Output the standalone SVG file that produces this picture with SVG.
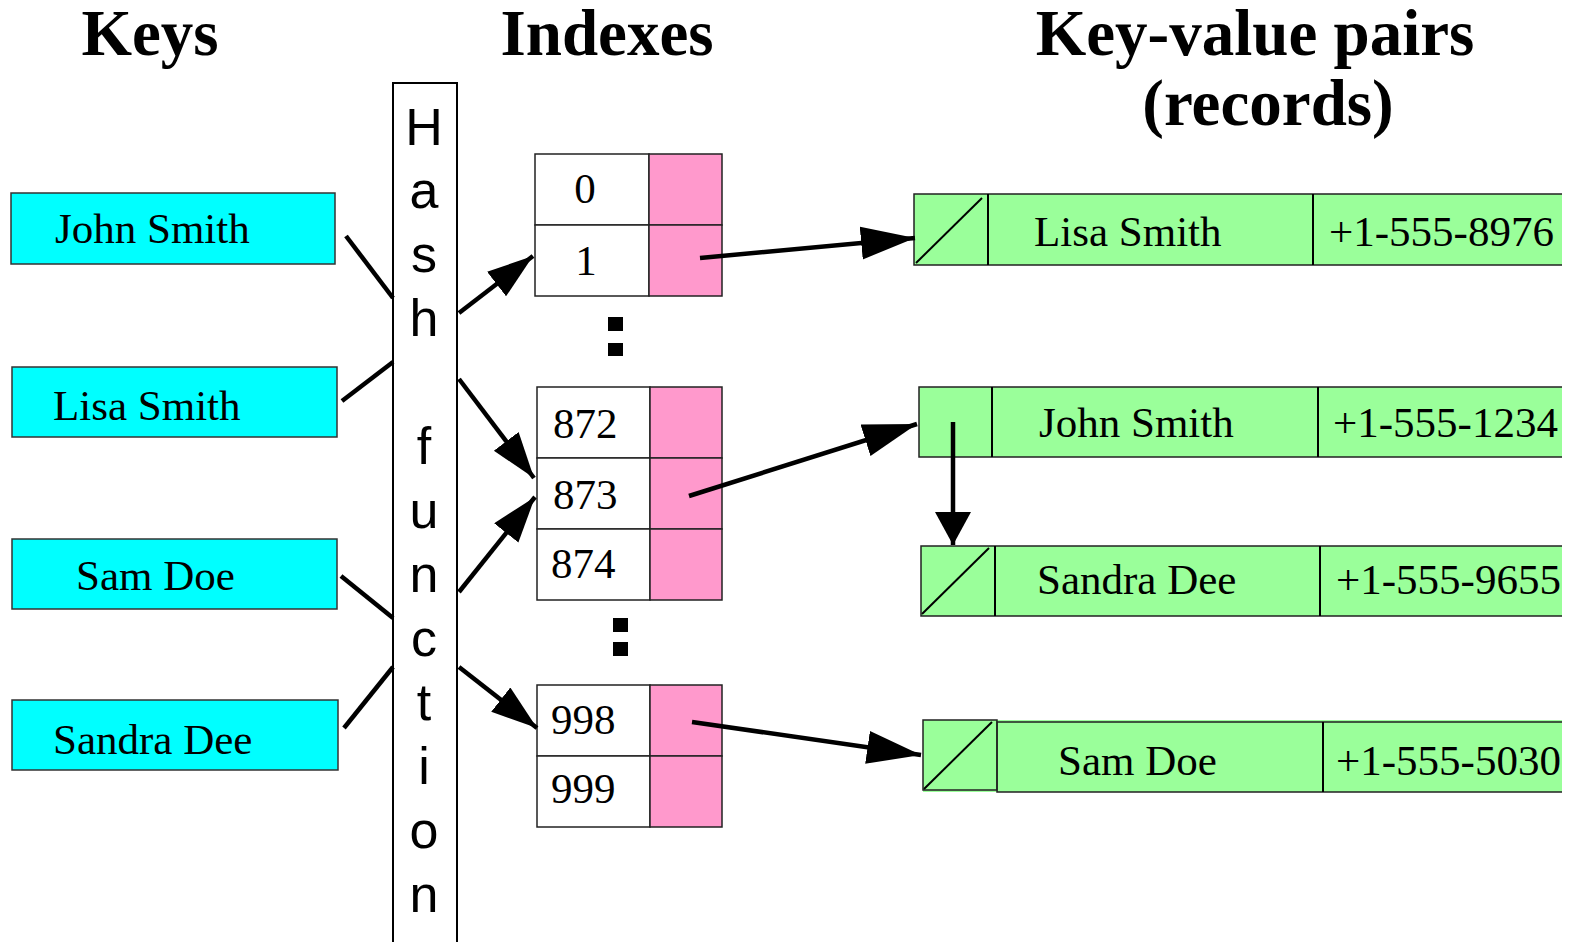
<svg xmlns="http://www.w3.org/2000/svg" width="1570" height="942" viewBox="0 0 1570 942">
<style>
.title{font-family:"Liberation Serif","Times New Roman",serif;font-weight:bold;font-size:65px;fill:#000}
.t{font-family:"Liberation Serif","Times New Roman",serif;font-size:43px;fill:#000}
.h{font-family:"Liberation Sans",Arial,sans-serif;font-size:52px;fill:#000}
.key{fill:#00FFFF;stroke:#333;stroke-width:1.5}
.idx{fill:#fff;stroke:#222;stroke-width:1.5}
.ptr{fill:#FF99CC;stroke:#222;stroke-width:1.5}
.rec{fill:#9AFF9A;stroke:none}
.edge{stroke:#222;stroke-width:1.5;fill:none}
.div{stroke:#000;stroke-width:2;fill:none}
.conn{stroke:#000;stroke-width:4.5;fill:none}
</style>
<defs>
<marker id="aL" markerUnits="userSpaceOnUse" markerWidth="56" markerHeight="34" refX="54" refY="16.5" orient="auto"><path d="M0,0 L54,16.5 L0,33 z" fill="#000"/></marker>
<marker id="aM" markerUnits="userSpaceOnUse" markerWidth="48" markerHeight="32" refX="46" refY="15.5" orient="auto"><path d="M0,0 L46,15.5 L0,31 z" fill="#000"/></marker>
<marker id="aV" markerUnits="userSpaceOnUse" markerWidth="36" markerHeight="38" refX="33" refY="18" orient="auto"><path d="M0,0 L33,18 L0,36 z" fill="#000"/></marker>
</defs>
<rect width="1570" height="942" fill="#fff"/>

<g id="titles">
<text class="title" x="150" y="55" text-anchor="middle">Keys</text>
<text class="title" x="607" y="55" text-anchor="middle">Indexes</text>
<text class="title" x="1255" y="55" text-anchor="middle">Key-value pairs</text>
<text class="title" x="1268" y="125" text-anchor="middle">(records)</text>
</g>

<g id="key-john">
<rect class="key" x="11" y="193" width="324" height="71"/>
<text class="t" x="55" y="243">John Smith</text>
</g>
<g id="key-lisa">
<rect class="key" x="12" y="367" width="325" height="70"/>
<text class="t" x="53" y="420">Lisa Smith</text>
</g>
<g id="key-sam">
<rect class="key" x="12" y="539" width="325" height="70"/>
<text class="t" x="76" y="590">Sam Doe</text>
</g>
<g id="key-sandra">
<rect class="key" x="12" y="700" width="326" height="70"/>
<text class="t" x="53" y="754">Sandra Dee</text>
</g>

<g id="hash-function">
<rect x="393" y="83" width="64" height="870" fill="#fff" stroke="#000" stroke-width="2"/>
<text class="h" text-anchor="middle" x="424" y="145">H</text>
<text class="h" text-anchor="middle" x="424" y="208">a</text>
<text class="h" text-anchor="middle" x="424" y="272">s</text>
<text class="h" text-anchor="middle" x="424" y="336">h</text>
<text class="h" text-anchor="middle" x="424" y="464">f</text>
<text class="h" text-anchor="middle" x="424" y="528">u</text>
<text class="h" text-anchor="middle" x="424" y="592">n</text>
<text class="h" text-anchor="middle" x="424" y="656">c</text>
<text class="h" text-anchor="middle" x="424" y="720">t</text>
<text class="h" text-anchor="middle" x="424" y="784">i</text>
<text class="h" text-anchor="middle" x="424" y="848">o</text>
<text class="h" text-anchor="middle" x="424" y="912">n</text>
</g>

<g id="index-0-1">
<rect class="idx" x="535" y="154" width="114" height="71"/>
<rect class="ptr" x="649" y="154" width="73" height="71"/>
<rect class="idx" x="535" y="225" width="114" height="71"/>
<rect class="ptr" x="649" y="225" width="73" height="71"/>
<text class="t" x="585" y="203" text-anchor="middle">0</text>
<text class="t" x="586" y="275" text-anchor="middle">1</text>
</g>
<g id="dots-1">
<rect x="608" y="317" width="15" height="14" fill="#000"/>
<rect x="608" y="343" width="15" height="13" fill="#000"/>
</g>
<g id="index-872-874">
<rect class="idx" x="537" y="387" width="113" height="71"/>
<rect class="ptr" x="650" y="387" width="72" height="71"/>
<rect class="idx" x="537" y="458" width="113" height="71"/>
<rect class="ptr" x="650" y="458" width="72" height="71"/>
<rect class="idx" x="537" y="529" width="113" height="71"/>
<rect class="ptr" x="650" y="529" width="72" height="71"/>
<text class="t" x="553" y="438">872</text>
<text class="t" x="553" y="509">873</text>
<text class="t" x="551" y="578">874</text>
</g>
<g id="dots-2">
<rect x="613" y="618" width="15" height="14" fill="#000"/>
<rect x="613" y="642" width="15" height="14" fill="#000"/>
</g>
<g id="index-998-999">
<rect class="idx" x="537" y="685" width="113" height="71"/>
<rect class="ptr" x="650" y="685" width="72" height="71"/>
<rect class="idx" x="537" y="756" width="113" height="71"/>
<rect class="ptr" x="650" y="756" width="72" height="71"/>
<text class="t" x="551" y="734">998</text>
<text class="t" x="551" y="803">999</text>
</g>

<g id="rec-lisa">
<rect class="rec" x="914" y="194" width="648" height="71"/>
<path class="edge" d="M1562,194 H914 V265 H1562"/>
<path class="div" d="M988,194 V265 M1313,194 V265"/>
<path d="M916,263 L982,198" stroke="#000" stroke-width="2"/>
<text class="t" x="1034" y="246">Lisa Smith</text>
<text class="t" x="1329" y="246">+1-555-8976</text>
</g>
<g id="rec-john">
<rect class="rec" x="919" y="387" width="643" height="70"/>
<path class="edge" d="M1562,387 H919 V457 H1562"/>
<path class="div" d="M992,387 V457 M1318,387 V457"/>
<text class="t" x="1039" y="437">John Smith</text>
<text class="t" x="1333" y="437">+1-555-1234</text>
</g>
<g id="rec-sandra">
<rect class="rec" x="921" y="546" width="641" height="70"/>
<path class="edge" d="M1562,546 H921 V616 H1562"/>
<path class="div" d="M995,546 V616 M1320,546 V616"/>
<path d="M922,614 L989,548" stroke="#000" stroke-width="2"/>
<text class="t" x="1037" y="594">Sandra Dee</text>
<text class="t" x="1336" y="594">+1-555-9655</text>
</g>
<g id="rec-sam">
<rect class="rec" x="923" y="720" width="639" height="72"/>
<rect x="923" y="720" width="74" height="70" fill="none" stroke="#222" stroke-width="1.5"/>
<path class="edge" d="M1562,722 H997 V792 H1562"/>
<path class="div" d="M1323,722 V792"/>
<path d="M924,789 L992,722" stroke="#000" stroke-width="2"/>
<text class="t" x="1058" y="775">Sam Doe</text>
<text class="t" x="1336" y="775">+1-555-5030</text>
</g>

<g id="connectors">
<line class="conn" x1="346" y1="236" x2="393" y2="298"/>
<line class="conn" x1="342" y1="401" x2="393" y2="362"/>
<line class="conn" x1="341" y1="576" x2="393" y2="618"/>
<line class="conn" x1="344" y1="728" x2="393" y2="667"/>
<line class="conn" x1="459" y1="313" x2="533" y2="256" marker-end="url(#aM)"/>
<line class="conn" x1="459" y1="379" x2="534" y2="478" marker-end="url(#aM)"/>
<line class="conn" x1="459" y1="592" x2="535" y2="497" marker-end="url(#aM)"/>
<line class="conn" x1="459" y1="667" x2="537" y2="728" marker-end="url(#aM)"/>
<line class="conn" x1="700" y1="258" x2="915" y2="238" marker-end="url(#aL)"/>
<line class="conn" x1="689" y1="496" x2="917" y2="424" marker-end="url(#aL)"/>
<line class="conn" x1="692" y1="722" x2="921" y2="755" marker-end="url(#aL)"/>
<line class="conn" x1="953" y1="422" x2="953" y2="545" marker-end="url(#aV)"/>
</g>
</svg>
